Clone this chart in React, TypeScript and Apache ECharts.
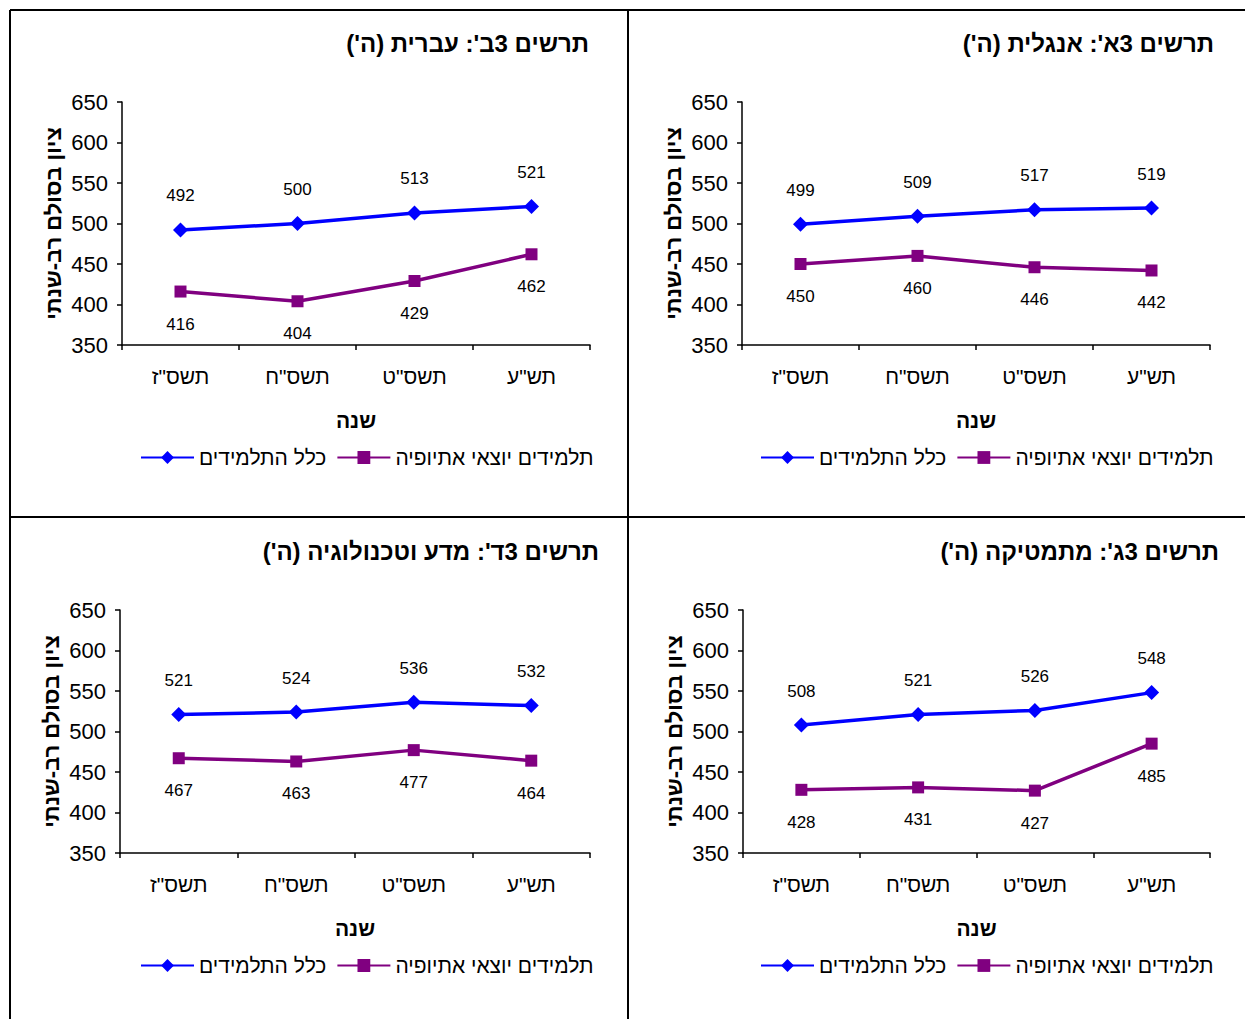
import React, { useEffect, useRef } from "react";
import * as echarts from "echarts";

const years = ['תשס"ז', 'תשס"ח', 'תשס"ט', 'תש"ע'];
const seriesNames = ["כלל התלמידים", "תלמידים יוצאי אתיופיה"];
const yAxisTitle = "ציון בסולם רב-שנתי";
const xAxisTitle = "שנה";
const yMin = 350;
const yMax = 650;
const yStep = 50;

const titles = [
  "תרשים 3ב': עברית (ה')",
  "תרשים 3א': אנגלית (ה')",
  "תרשים 3ד': מדע וטכנולוגיה (ה')",
  "תרשים 3ג': מתמטיקה (ה')",
];

const hebrewAll = [492, 500, 513, 521];
const hebrewEth = [416, 404, 429, 462];
const englishAll = [499, 509, 517, 519];
const englishEth = [450, 460, 446, 442];
const scienceAll = [521, 524, 536, 532];
const scienceEth = [467, 463, 477, 464];
const mathAll = [508, 521, 526, 548];
const mathEth = [428, 431, 427, 485];

const panelData = [
  [hebrewAll, hebrewEth],
  [englishAll, englishEth],
  [scienceAll, scienceEth],
  [mathAll, mathEth],
];

// layout (pixels)
const layout = [
  { left: 122, top: 102, width: 468, titleRight: 1245 - 589, titleTop: 31, legendLeft: 140, legendTop: 447 },
  { left: 742, top: 102, width: 468, titleRight: 1245 - 1214, titleTop: 31, legendLeft: 760, legendTop: 447 },
  { left: 120, top: 610, width: 470, titleRight: 1245 - 599, titleTop: 539, legendLeft: 140, legendTop: 955 },
  { left: 743, top: 610, width: 467, titleRight: 1245 - 1219, titleTop: 539, legendLeft: 760, legendTop: 955 },
];
const gridHeight = 243;

const rtl = (s: string) => "\u202B" + s + "\u202C";
const FONT = "Arial, 'Liberation Sans', 'DejaVu Sans', sans-serif";
const BLUE = "#0000FF";
const PURPLE = "#800080";

export default function App() {
  const ref = useRef<HTMLDivElement>(null);
  useEffect(() => {
    if (!ref.current) return;
    const chart = echarts.init(ref.current, undefined, { renderer: "svg" });
    const grids = layout.map((l) => ({ left: l.left, top: l.top, width: l.width, height: gridHeight, containLabel: false }));
    const xAxes = layout.map((_, i) => ({
      type: "category",
      gridIndex: i,
      data: years,
      boundaryGap: true,
      name: rtl(xAxisTitle),
      nameLocation: "middle",
      nameGap: 65,
      nameTextStyle: { fontSize: 21, fontWeight: "bold", color: "#000", fontFamily: FONT, verticalAlign: "top" },
      axisLine: { lineStyle: { color: "#000", width: 1.5 } },
      axisTick: { show: true, length: 5, lineStyle: { color: "#000", width: 1.5 } },
      axisLabel: { fontSize: 21, color: "#000", margin: 21, fontFamily: FONT },
      splitLine: { show: false },
    }));
    const yAxes = layout.map((_, i) => ({
      type: "value",
      gridIndex: i,
      min: yMin,
      max: yMax,
      interval: yStep,
      name: rtl(yAxisTitle),
      nameLocation: "middle",
      nameGap: 58,
      nameRotate: 90,
      nameTextStyle: { fontSize: 22, fontWeight: "bold", color: "#000", fontFamily: FONT },
      axisLine: { show: true, lineStyle: { color: "#000", width: 1.5 } },
      axisTick: { show: true, length: 5, lineStyle: { color: "#000", width: 1.5 } },
      axisLabel: { fontSize: 22, color: "#000", margin: 14, fontFamily: FONT },
      splitLine: { show: false },
    }));
    const series: any[] = [];
    panelData.forEach((pd, i) => {
      series.push({
        name: seriesNames[0],
        type: "line",
        xAxisIndex: i,
        yAxisIndex: i,
        data: pd[0],
        symbol: "diamond",
        symbolSize: 15,
        lineStyle: { color: BLUE, width: 3.5 },
        itemStyle: { color: BLUE },
        label: { show: true, position: "top", distance: 18, fontSize: 17, color: "#000", fontFamily: FONT },
      });
      series.push({
        name: seriesNames[1],
        type: "line",
        xAxisIndex: i,
        yAxisIndex: i,
        data: pd[1],
        symbol: "rect",
        symbolSize: 12,
        lineStyle: { color: PURPLE, width: 3.5 },
        itemStyle: { color: PURPLE },
        label: { show: true, position: "bottom", distance: 18, fontSize: 17, color: "#000", fontFamily: FONT },
      });
    });
    const legends = layout.map((l) => ({
      data: seriesNames,
      left: l.legendLeft,
      top: l.legendTop,
      padding: 0,
      itemWidth: 53,
      itemHeight: 16,
      itemGap: 10,
      formatter: (n: string) => rtl(n),
      textStyle: { fontSize: 21, color: "#000", fontFamily: FONT },
    }));
    const titleArr = layout.map((l, i) => ({
      text: rtl(titles[i]),
      right: l.titleRight,
      top: l.titleTop,
      padding: 0,
      textStyle: { fontSize: 24, fontWeight: "bold", color: "#000", fontFamily: FONT },
    }));
    const lineStyle = { stroke: "#000", lineWidth: 2 };
    const graphic = [
      { type: "line", shape: { x1: 10, y1: 10, x2: 1245, y2: 10 }, style: lineStyle },
      { type: "line", shape: { x1: 10, y1: 10, x2: 10, y2: 1019 }, style: lineStyle },
      { type: "line", shape: { x1: 628, y1: 10, x2: 628, y2: 1019 }, style: lineStyle },
      { type: "line", shape: { x1: 10, y1: 517, x2: 1245, y2: 517 }, style: lineStyle },
    ];
    chart.setOption({
      animation: false,
      backgroundColor: "#fff",
      textStyle: { fontFamily: FONT },
      title: titleArr,
      legend: legends,
      grid: grids,
      xAxis: xAxes,
      yAxis: yAxes,
      series,
      graphic,
    });
    return () => chart.dispose();
  }, []);
  return <div ref={ref} style={{ position: "absolute", left: 0, top: 0, width: 1245, height: 1019 }} />;
}
